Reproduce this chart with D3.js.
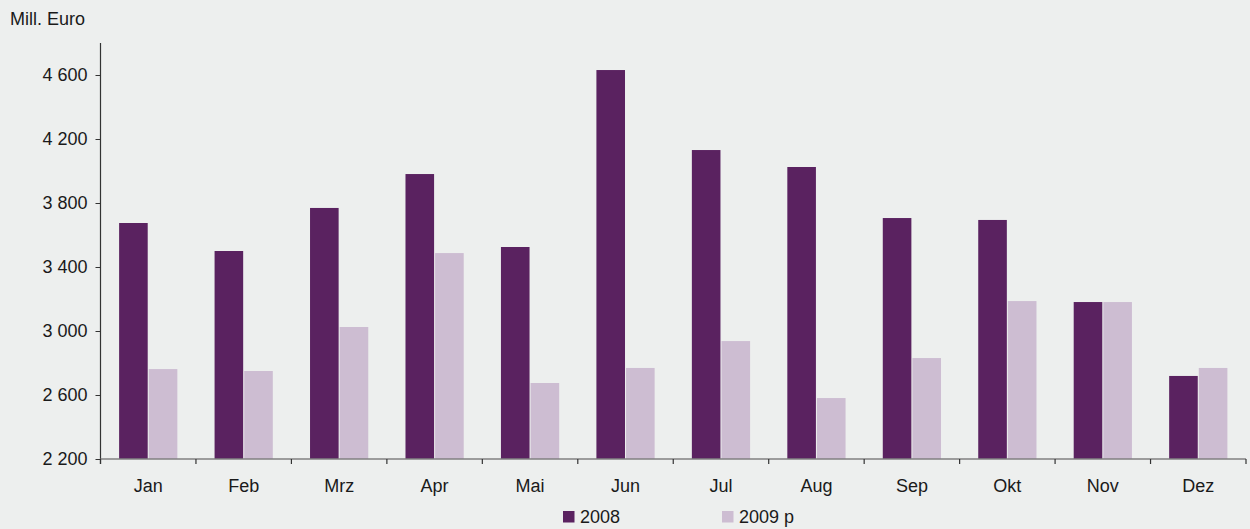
<!DOCTYPE html>
<html><head><meta charset="utf-8">
<script src="https://cdn.jsdelivr.net/npm/d3@7"></script>
<style>
html,body{margin:0;padding:0;background:#edefee;}
svg{display:block;font-family:"Liberation Sans",Arial,sans-serif;}
</style></head>
<body><svg id="c" width="1250" height="529"></svg>
<script>
const months = ["Jan","Feb","Mrz","Apr","Mai","Jun","Jul","Aug","Sep","Okt","Nov","Dez"];
const seriesNames = ["2008","2009 p"];
const values2008 = [3675,3500,3769,3981,3525,4631,4131,4025,3706,3694,3181,2719];
const values2009 = [2762,2750,3025,3487,2675,2769,2937,2581,2831,3187,3181,2769];
const yTicks = [2200,2600,3000,3400,3800,4200,4600];
const colors = ["#5a2260","#cdbdd2"];

const svg = d3.select("#c");
const mLeft = 100.5, mRight = 1246, mTop = 43, mBottom = 459;

const x0 = d3.scaleBand().domain(months).range([mLeft, mRight]).padding(0);
const bw = x0.bandwidth();
const x1 = d3.scaleBand().domain(seriesNames).range([bw*0.195, bw*0.805]).paddingInner(0.035);
const y = d3.scaleLinear().domain([2200,4800]).range([mBottom, mTop]);

const data = months.map((m,i)=>({m, vals:[values2008[i], values2009[i]]}));

const g = svg.append("g");
g.selectAll("g.grp").data(data).enter().append("g")
  .attr("transform", d=>`translate(${x0(d.m)},0)`)
  .selectAll("rect").data(d=>d.vals.map((v,j)=>({s:seriesNames[j], v, j})))
  .enter().append("rect")
  .attr("x", d=>x1(d.s))
  .attr("width", x1.bandwidth())
  .attr("y", d=>y(d.v))
  .attr("height", d=>y(2200)-y(d.v))
  .attr("fill", d=>colors[d.j]);

// y axis
const yAxis = d3.axisLeft(y).tickValues(yTicks).tickSize(5).tickPadding(8)
  .tickFormat(d=>d3.format(",")(d).replace(",", " "));
const ya = svg.append("g").attr("transform",`translate(${mLeft},0)`).call(yAxis);
ya.select(".domain").attr("d", `M0,${mTop}V${mBottom+5}`).attr("stroke","#333").attr("stroke-width",1.2);
ya.selectAll(".tick line").attr("stroke","#333");
ya.selectAll(".tick text").attr("font-size","18px").attr("fill","#1a1a1a").attr("font-family","Liberation Sans, Arial, sans-serif");

// x axis
const xa = svg.append("g").attr("transform",`translate(0,${mBottom})`);
xa.append("line").attr("x1",mLeft).attr("x2",mRight).attr("y1",0).attr("y2",0)
  .attr("stroke","#808080").attr("stroke-width",1.5);
const boundaries = months.map(m=>x0(m)).concat([mRight]);
xa.selectAll("line.tk").data(boundaries).enter().append("line")
  .attr("x1",d=>d).attr("x2",d=>d).attr("y1",0).attr("y2",5)
  .attr("stroke","#333").attr("stroke-width",1.2);
xa.selectAll("text").data(months).enter().append("text")
  .attr("x", d=>x0(d)+bw/2).attr("y",33).attr("text-anchor","middle")
  .attr("font-size","18px").attr("fill","#1a1a1a").text(d=>d);

// unit label
svg.append("text").attr("x",10).attr("y",25).attr("font-size","18px").attr("fill","#1a1a1a").text("Mill. Euro");

// legend
const legendX = [563, 722];
const lg = svg.selectAll("g.lg").data(seriesNames).enter().append("g")
  .attr("transform",(d,i)=>`translate(${legendX[i]},511)`);
lg.append("rect").attr("width",11.5).attr("height",11.5).attr("fill",(d,i)=>colors[i]);
lg.append("text").attr("x",17).attr("y",11.5).attr("font-size","18px").attr("fill","#1a1a1a").text(d=>d);
</script></body></html>
